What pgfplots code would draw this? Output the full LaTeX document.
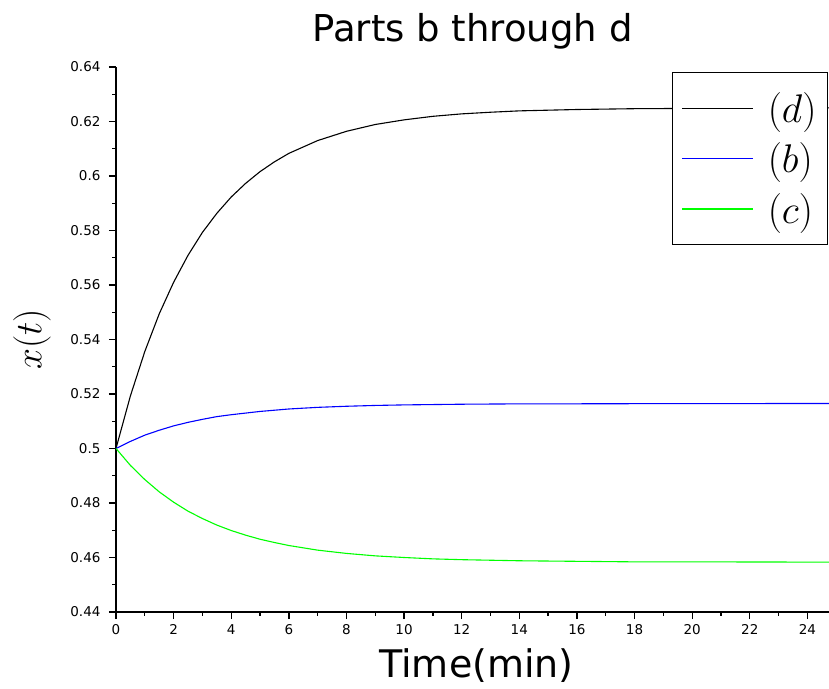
\RequirePackage{fix-cm}
\documentclass[border=0pt]{standalone}
\usepackage{pgfplots}
\pgfplotsset{compat=1.18}
\usepackage{fontspec}
\setmainfont{DejaVu Sans}
\definecolor{pgreen}{RGB}{0,255,0}
\definecolor{pblue}{RGB}{0,0,255}
\definecolor{pblack}{RGB}{0,0,0}
\begin{document}
\begin{tikzpicture}[x=1pt,y=1pt]
\begin{axis}[
  name=main,
  at={(0pt,0pt)}, anchor=origin,
  scale only axis,
  width=713pt, height=545pt,
  xmin=0, xmax=24.75, ymin=0.44, ymax=0.64,
  axis x line*=bottom, axis y line*=left,
  axis line style={-, line width=1.5pt},
  xtick={0,2,...,24}, ytick={0.44,0.46,...,0.641},
  minor tick num=1,
  tick align=outside,
  major tick length=7pt, minor tick length=3.5pt,
  every tick/.style={line width=1.3pt, black},
  /pgf/number format/assume math mode=true,
  tick label style={font=\fontsize{13.5}{16}\selectfont},
  yticklabel style={/pgf/number format/fixed, xshift=-5pt},
  xticklabel style={yshift=-2pt},
  title={Parts b through d},
  title style={at={(axis description cs:0.5,1)}, anchor=south, yshift=8pt, font=\fontsize{37}{44}\selectfont},
  xlabel={Time(min)},
  xlabel style={at={(axis description cs:0.5,0)}, anchor=north, yshift=-33pt, xshift=4pt, font=\fontsize{38}{44}\selectfont},
  ylabel={$x(t)$},
  ylabel style={at={(axis description cs:-0.1178,0.5)}, anchor=center, font=\fontsize{37.5}{44}\selectfont},
  legend cell align=left,
  legend image code/.code={\draw[#1, line width=1.2pt] (0pt,0pt) -- (71pt,0pt);},
  legend style={at={(axis description cs:0.9986,0.991)}, anchor=north east,
    draw=black, fill=white, line width=1pt,
    inner xsep=9pt, inner ysep=18pt, row sep=15pt, column sep=12pt,
    font=\fontsize{40}{46}\selectfont},
]
\addplot[pblack, line width=1.1pt] coordinates {
(0,0.5) (0.5,0.5193) (1,0.5356) (1.5,0.5494) (2,0.5610) (2.5,0.5709) (3,0.5793)
(3.5,0.5863) (4,0.5923) (4.5,0.5973) (5,0.6016) (5.5,0.6052) (6,0.6083) (7,0.6130)
(8,0.6164) (9,0.6189) (10,0.6206) (11,0.6219) (12,0.6228) (13,0.6234) (14,0.6239)
(16,0.6244) (18,0.6247) (20,0.6248) (22,0.6249) (24.75,0.6250)
};
\addlegendentry{$(d)$}
\addplot[pblue, line width=1.1pt] coordinates {
(0,0.5) (0.5,0.5026) (1,0.5049) (1.5,0.5067) (2,0.5083) (2.5,0.5096) (3,0.5107)
(3.5,0.5117) (4,0.5124) (5,0.5136) (6,0.5145) (7,0.5151) (8,0.5155) (9,0.5158)
(10,0.5160) (12,0.51625) (14,0.51638) (16,0.5164) (20,0.51649) (24.75,0.5165)
};
\addlegendentry{$(b)$}
\addplot[pgreen, line width=1.1pt] coordinates {
(0,0.5) (0.5,0.4938) (1,0.4886) (1.5,0.4841) (2,0.4803) (2.5,0.4770) (3,0.4743)
(3.5,0.4719) (4,0.4699) (4.5,0.4682) (5,0.4667) (5.5,0.4655) (6,0.4644) (7,0.4627)
(8,0.4615) (9,0.4606) (10,0.4600) (11,0.4595) (12,0.4592) (13,0.4590) (14,0.4588)
(16,0.4586) (18,0.4584) (20,0.4584) (24.75,0.4583)
};
\addlegendentry{$(c)$}
\end{axis}
\pgfresetboundingbox
\useasboundingbox (-116pt,-76pt) rectangle (713pt,612pt);
\end{tikzpicture}
\end{document}
